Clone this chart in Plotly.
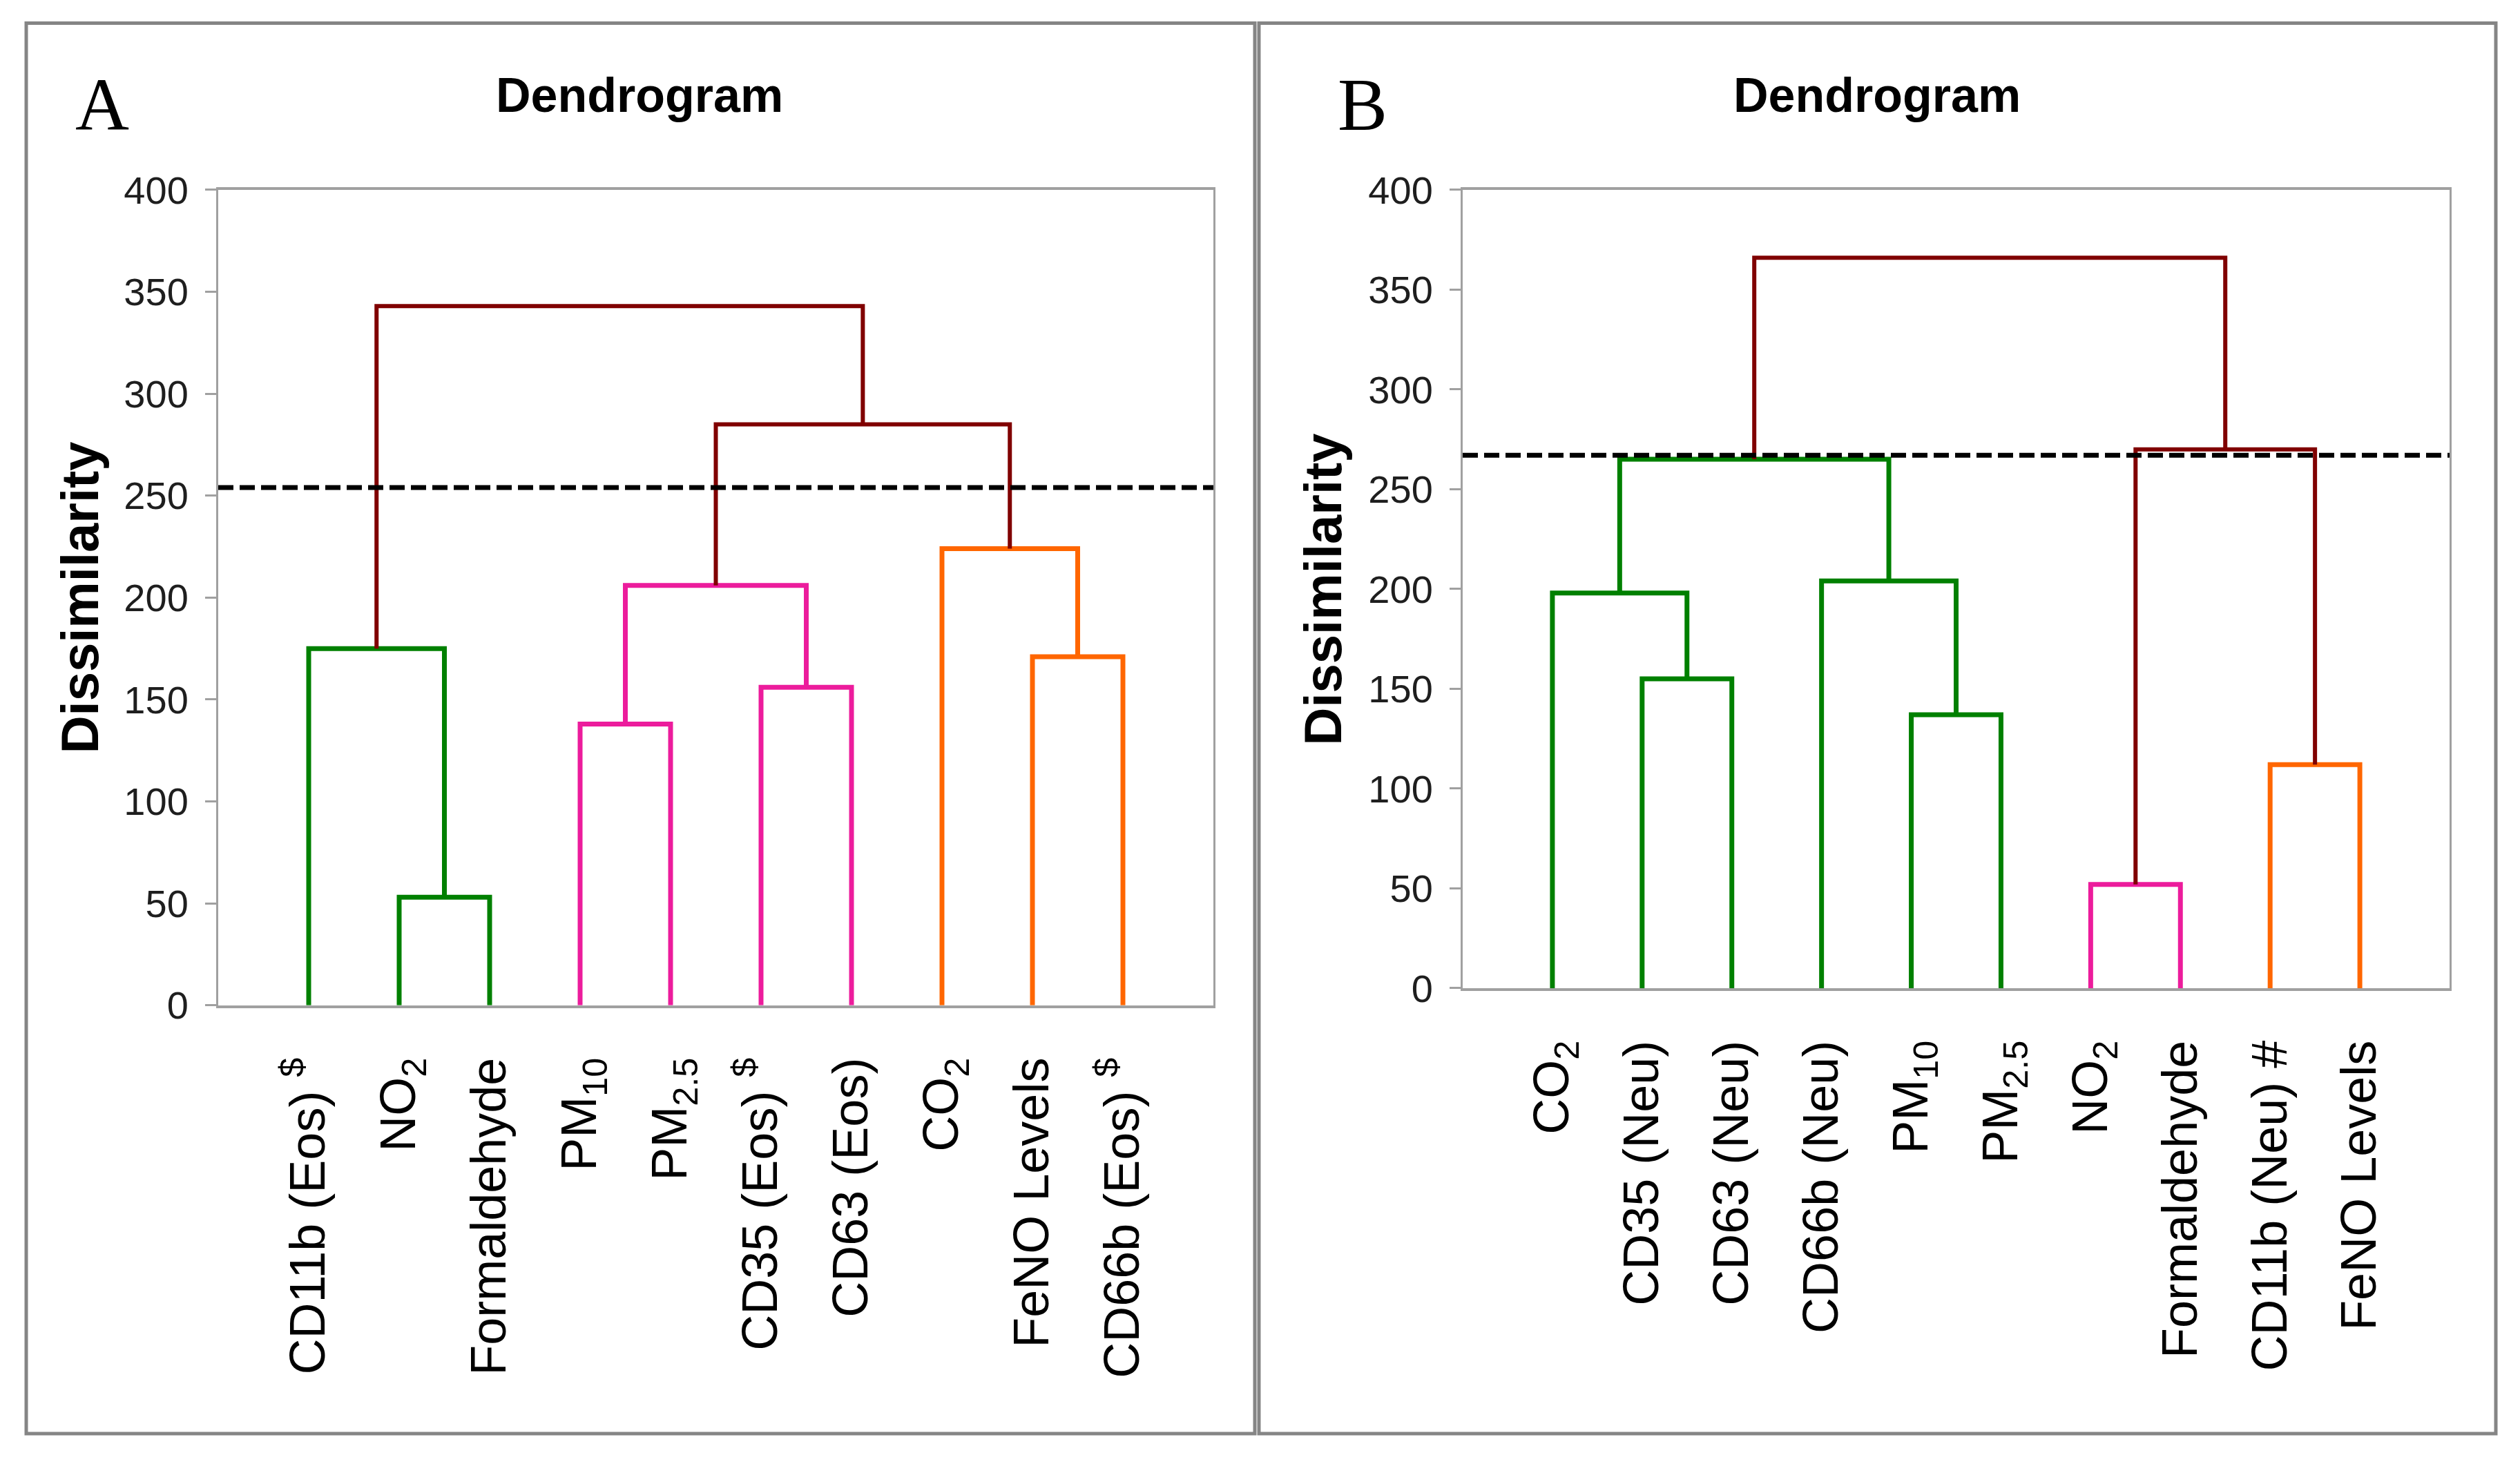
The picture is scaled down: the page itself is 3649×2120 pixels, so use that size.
import plotly.graph_objects as go

W, H = 3649, 2120

# ---------------- Data ----------------
# Panel A leaves (left to right)
labels_A = ["CD11b (Eos) <sup>$</sup>", "NO<sub>2</sub>", "Formaldehyde", "PM<sub>10</sub>",
            "PM<sub>2.5</sub>", "CD35 (Eos) <sup>$</sup>", "CD63 (Eos)", "CO<sub>2</sub>",
            "FeNO Levels", "CD66b (Eos) <sup>$</sup>"]
# linkage: ids 0-9 are leaves, 10+ are merged clusters in order
merge_left_A = [1, 0, 3, 5, 12, 8, 7, 14, 11]
merge_right_A = [2, 10, 4, 6, 13, 9, 15, 16, 17]
merge_height_A = [53, 175, 138, 156, 206, 171, 224, 285, 343]
merge_group_A = ["green", "green", "pink", "pink", "pink", "orange", "orange", "root", "root"]
cutoff_A = 254

# Panel B leaves (left to right)
labels_B = ["CO<sub>2</sub>", "CD35 (Neu)", "CD63 (Neu)", "CD66b (Neu)", "PM<sub>10</sub>",
            "PM<sub>2.5</sub>", "NO<sub>2</sub>", "Formaldehyde", "CD11b (Neu) #", "FeNO Levels"]
merge_left_B = [1, 0, 4, 3, 11, 6, 8, 15, 14]
merge_right_B = [2, 10, 5, 12, 13, 7, 9, 16, 17]
merge_height_B = [155, 198, 137, 204, 265, 52, 112, 270, 366]
merge_group_B = ["green", "green", "green", "green", "green", "pink", "orange", "root", "root"]
cutoff_B = 267

y_ticks = [0, 50, 100, 150, 200, 250, 300, 350, 400]

# ---------------- Styles ----------------
group_style = {
    "green": dict(color="#008000", width=7),
    "pink": dict(color="#EC1C9C", width=7),
    "orange": dict(color="#FF6600", width=7),
    "root": dict(color="#800000", width=6),
}
FONT = "Liberation Sans, Arial, sans-serif"

fig = go.Figure()


def add_dendrogram(labels, lefts, rights, heights, groups, cutoff, xa, ya):
    n = len(labels)
    xs = {i: i + 1 for i in range(n)}
    hs = {i: 0 for i in range(n)}
    for k, (l, r, h, g) in enumerate(zip(lefts, rights, heights, groups)):
        node = n + k
        xl, xr = xs[l], xs[r]
        fig.add_trace(go.Scatter(
            x=[xl, xl, xr, xr], y=[hs[l], h, h, hs[r]],
            mode="lines", line=dict(**group_style[g]),
            xaxis=xa, yaxis=ya, showlegend=False, hoverinfo="skip"))
        xs[node] = (xl + xr) / 2
        hs[node] = h
    fig.add_trace(go.Scatter(
        x=[0, n + 1], y=[cutoff, cutoff], mode="lines",
        line=dict(color="black", width=7, dash="22px,9px"),
        xaxis=xa, yaxis=ya, showlegend=False, hoverinfo="skip"))


add_dendrogram(labels_A, merge_left_A, merge_right_A, merge_height_A, merge_group_A, cutoff_A, "x", "y")
add_dendrogram(labels_B, merge_left_B, merge_right_B, merge_height_B, merge_group_B, cutoff_B, "x2", "y2")


def xaxis_cfg(domain, labels, anchor):
    return dict(domain=domain, anchor=anchor, range=[0, len(labels) + 1],
                tickmode="array", tickvals=list(range(1, len(labels) + 1)), ticktext=labels,
                tickangle=-90, ticks="", showgrid=False, zeroline=False,
                showline=True, mirror=True, linecolor="#A0A0A0", linewidth=4,
                tickfont=dict(family=FONT, size=72, color="black"),
                ticklabelstandoff=43, fixedrange=True)


def yaxis_cfg(domain, anchor):
    return dict(domain=domain, anchor=anchor, range=[0, 400],
                tickmode="array", tickvals=y_ticks, ticktext=[str(v) for v in y_ticks],
                ticks="outside", ticklen=16, tickwidth=3, tickcolor="#A0A0A0",
                showgrid=False, zeroline=False,
                showline=True, mirror=True, linecolor="#A0A0A0", linewidth=3,
                tickfont=dict(family=FONT, size=56, color="#1E1E1E"),
                ticklabelstandoff=13, fixedrange=True)


# layout helpers (page pixel -> paper fraction); the vertical helper compensates
# for the capture's vertical offset/scale so layout lands where intended
SHOT_OFFSET, SHOT_SCALE = 31.0, 0.9745


def px_x(p):
    return p / W


def px_y(p):
    y = max((p - SHOT_OFFSET) / SHOT_SCALE, 2.5)
    return 1 - y / H


fig.update_layout(
    width=W, height=H, autosize=False,
    margin=dict(l=0, r=0, t=0, b=0),
    paper_bgcolor="white", plot_bgcolor="white",
    showlegend=False, hovermode=False,
    xaxis=xaxis_cfg([px_x(316), px_x(1757)], labels_A, "y"),
    yaxis=yaxis_cfg([px_y(1462), px_y(276)], "x"),
    xaxis2=xaxis_cfg([px_x(2118), px_x(3547)], labels_B, "y2"),
    yaxis2=yaxis_cfg([px_y(1437), px_y(276)], "x2"),
)

# panel frames
shapes = [
    dict(type="rect", xref="paper", yref="paper", x0=px_x(38), x1=px_x(1817), y0=px_y(2085), y1=px_y(28),
         line=dict(color="#858585", width=5), layer="below"),
    dict(type="rect", xref="paper", yref="paper", x0=px_x(1823), x1=px_x(3614), y0=px_y(2085), y1=px_y(28),
         line=dict(color="#858585", width=5), layer="below"),
]
fig.update_layout(shapes=shapes)

annotations = [
    dict(text="A", x=px_x(148), y=px_y(152), xref="paper", yref="paper", showarrow=False,
         font=dict(family="Liberation Serif, Times New Roman, serif", size=108, color="black"),
         xanchor="center", yanchor="middle"),
    dict(text="B", x=px_x(1973), y=px_y(152), xref="paper", yref="paper", showarrow=False,
         font=dict(family="Liberation Serif, Times New Roman, serif", size=108, color="black"),
         xanchor="center", yanchor="middle"),
    dict(text="<b>Dendrogram</b>", x=px_x(926), y=px_y(138), xref="paper", yref="paper", showarrow=False,
         font=dict(family=FONT, size=70, color="black"), xanchor="center", yanchor="middle"),
    dict(text="<b>Dendrogram</b>", x=px_x(2718), y=px_y(138), xref="paper", yref="paper", showarrow=False,
         font=dict(family=FONT, size=70, color="black"), xanchor="center", yanchor="middle"),
    dict(text="<b>Dissimilarity</b>", x=px_x(115), y=px_y(869), xref="paper", yref="paper", showarrow=False,
         textangle=-90, font=dict(family=FONT, size=76, color="black"), xanchor="center", yanchor="middle"),
    dict(text="<b>Dissimilarity</b>", x=px_x(1915), y=px_y(857), xref="paper", yref="paper", showarrow=False,
         textangle=-90, font=dict(family=FONT, size=76, color="black"), xanchor="center", yanchor="middle"),
]
fig.update_layout(annotations=annotations)

post = ("document.body.style.margin='0px';document.body.style.padding='0px';"
        "document.documentElement.style.overflow='hidden';document.body.style.overflow='hidden';")
fig.write_html("out.html", config={"displayModeBar": False}, post_script=post)
